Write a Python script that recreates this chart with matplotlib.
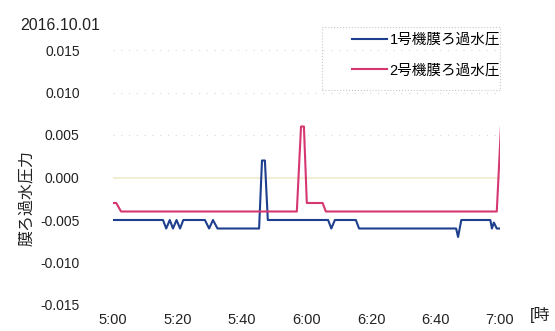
import matplotlib
matplotlib.use("Agg")
import matplotlib.pyplot as plt
from matplotlib.ticker import FixedLocator
from matplotlib.patches import Rectangle

plt.rcParams['font.family'] = ['Liberation Sans', 'Noto Sans CJK JP', 'DejaVu Sans']

# Minutes after 5:00 and filtration pressure readings
t1 = [0, 15.5, 16.5, 17.6, 18.6, 19.7, 20.8, 21.8, 28.5, 29.8, 31.0, 32.4,
      45.3, 46.2, 47.1, 48.0, 66.7, 67.7, 68.8, 75.3, 76.3, 106.4, 107.0,
      108.0, 117.0, 117.5, 118.1, 119.0, 120.0]
p1 = [-0.005, -0.005, -0.006, -0.005, -0.006, -0.005, -0.006, -0.005, -0.005,
      -0.006, -0.005, -0.006, -0.006, 0.002, 0.002, -0.005, -0.005, -0.006,
      -0.005, -0.005, -0.006, -0.006, -0.007, -0.005, -0.005, -0.006,
      -0.0053, -0.006, -0.006]

t2 = [0, 1.0, 2.5, 57.0, 58.3, 59.2, 60.1, 65.0, 66.0, 119.0, 120.3]
p2 = [-0.003, -0.003, -0.004, -0.004, 0.006, 0.006, -0.003, -0.003, -0.004,
      -0.004, 0.006]

series_labels = ['1号機膜ろ過水圧', '2号機膜ろ過水圧']
x_ticks = [0, 20, 40, 60, 80, 100, 120]
x_ticklabels = ['5:00', '5:20', '5:40', '6:00', '6:20', '6:40', '7:00']
y_ticks = [-0.015, -0.010, -0.005, 0.000, 0.005, 0.010, 0.015]

W, H = 555, 331
fig = plt.figure(figsize=(W / 100, H / 100), dpi=100)
ax = fig.add_axes([113 / W, 1 - 305 / H, 387 / W, 255 / H])

blue = '#1d3f8e'
pink = '#d63771'

# faint grid
for yv in y_ticks:
    if yv == 0:
        ax.axhline(yv, color='#efeccb', lw=1.2, zorder=0)
    elif yv > 0:
        ax.axhline(yv, color='#d8d8d8', lw=0.8, ls=(0, (1, 6)), zorder=0)

l1, = ax.plot(t1, p1, color=blue, lw=1.5, label=series_labels[0])
l2, = ax.plot(t2, p2, color=pink, lw=1.5, label=series_labels[1])

ax.set_xlim(0, 120)
ax.set_ylim(-0.015, 0.015)
ax.xaxis.set_major_locator(FixedLocator(x_ticks))
ax.set_xticklabels(x_ticklabels)
ax.yaxis.set_major_locator(FixedLocator(y_ticks))
ax.set_yticklabels([f'{v:.3f}' for v in y_ticks])
ax.tick_params(length=0, labelsize=10.5, colors='#222222')
ax.tick_params(axis='y', labelsize=10, pad=24)
ax.tick_params(axis='x', pad=6)
for s in ax.spines.values():
    s.set_visible(False)

ax.set_ylabel('膜ろ過水圧力', fontsize=11.5, color='#222222')
ax.yaxis.set_label_coords(-0.205, 0.42)

fig.text(20 / W, 1 - 25 / H, '2016.10.01', fontsize=11.5, color='#222222',
         ha='left', va='center')
fig.text(530 / W, 1 - 315 / H, '[時', fontsize=11.5, color='#222222',
         ha='left', va='center')

leg = fig.legend(handles=[l1, l2], loc='upper left',
                 bbox_to_anchor=(346 / W, 1 - 27 / H), fontsize=10.5,
                 handlelength=2.4, handletextpad=0.2, labelspacing=1.15,
                 borderpad=0.4, borderaxespad=0, frameon=False)

# dotted legend frame
fig.patches.append(Rectangle((322 / W, 1 - 90 / H), 178 / W, 63 / H,
                             transform=fig.transFigure, fill=False,
                             edgecolor='#c8c8c8', lw=0.8, ls=':'))

fig.savefig('out.png', dpi=100)
